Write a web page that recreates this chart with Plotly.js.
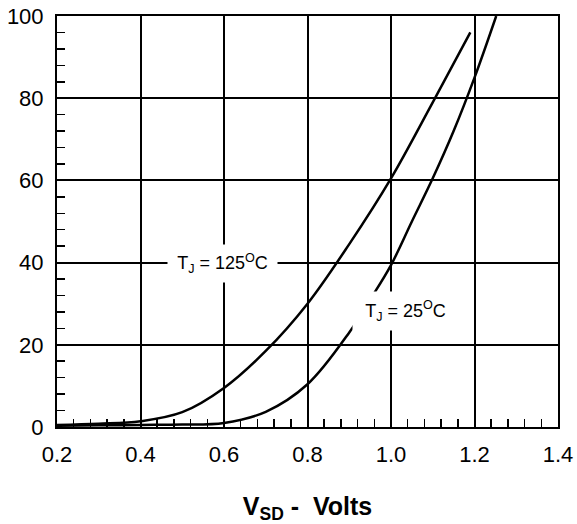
<!DOCTYPE html>
<html>
<head>
<meta charset="utf-8">
<script src="https://cdn.plot.ly/plotly-3.0.1.min.js"></script>
<style>html,body{margin:0;padding:0;background:#fff;}#chart{width:577px;height:524px;}</style>
</head>
<body>
<div id="chart"></div>
<script>
// Data
const vsd125 = [0.2, 0.3, 0.4, 0.5, 0.6, 0.7, 0.8, 0.9, 1.0, 1.1, 1.19];
const isd125 = [0.5, 0.8, 1.4, 3.6, 9.5, 18.5, 30, 44.5, 60.5, 79, 96];
const vsd25 = [0.2, 0.3, 0.4, 0.5, 0.6, 0.7, 0.8, 0.9, 0.95, 1.0, 1.05, 1.1, 1.15, 1.2, 1.252];
const isd25 = [0.3, 0.4, 0.5, 0.6, 1.0, 3.7, 10.4, 23, 31, 39.4, 50, 60.5, 72, 85, 100];
const xTicks = [0.2, 0.4, 0.6, 0.8, 1.0, 1.2, 1.4];
const yTicks = [0, 20, 40, 60, 80, 100];
const label125 = "T<sub>J</sub> = 125<sup>O</sup>C";
const label25 = "T<sub>J</sub> = 25<sup>O</sup>C";
const xTitle = "<b>V<sub>SD</sub> -  Volts</b>";

const lineStyle = {color: "black", width: 2.5, shape: "spline", smoothing: 1.0};
const traces = [
  {x: vsd125, y: isd125, mode: "lines", line: lineStyle, hoverinfo: "skip", showlegend: false},
  {x: vsd25, y: isd25, mode: "lines", line: lineStyle, hoverinfo: "skip", showlegend: false}
];
const font = {family: "Arial, 'Liberation Sans', sans-serif", color: "black"};
const layout = {
  width: 577, height: 524,
  margin: {l: 57, r: 19, t: 16, b: 97},
  paper_bgcolor: "white", plot_bgcolor: "white",
  font: Object.assign({size: 22}, font),
  showlegend: false,
  xaxis: {
    range: [0.2, 1.4], tickvals: xTicks, ticktext: xTicks.map(v => v.toFixed(1)),
    showgrid: true, gridcolor: "black", gridwidth: 2,
    showline: true, linecolor: "black", linewidth: 2, mirror: true,
    ticks: "inside", ticklen: 14, tickwidth: 2, tickcolor: "black",
    minor: {dtick: 0.04, ticks: "inside", ticklen: 8, tickwidth: 1.5, tickcolor: "black", showgrid: false},
    zeroline: false, fixedrange: true,
    ticklabelstandoff: 7,
    tickfont: Object.assign({size: 22}, font),
    title: {text: xTitle, font: Object.assign({size: 25}, font), standoff: 38}
  },
  yaxis: {
    range: [0, 100], tickvals: yTicks,
    showgrid: true, gridcolor: "black", gridwidth: 2,
    showline: true, linecolor: "black", linewidth: 2, mirror: true,
    ticks: "inside", ticklen: 14, tickwidth: 2, tickcolor: "black",
    minor: {dtick: 4, ticks: "inside", ticklen: 8, tickwidth: 1.5, tickcolor: "black", showgrid: false},
    zeroline: false, fixedrange: true,
    ticklabelstandoff: 7,
    tickfont: Object.assign({size: 22}, font)
  },
  annotations: [
    {x: 0.596, y: 39.7, xref: "x", yref: "y", text: label125, showarrow: false,
     bgcolor: "white", borderpad: 0, width: 109, height: 37,
     font: Object.assign({size: 18}, font)},
    {x: 1.035, y: 28.2, xref: "x", yref: "y", text: label25, showarrow: false,
     bgcolor: "white", borderpad: 0, width: 105, height: 38,
     font: Object.assign({size: 18}, font)}
  ]
};
Plotly.newPlot("chart", traces, layout, {staticPlot: true, displayModeBar: false});
</script>
</body>
</html>
